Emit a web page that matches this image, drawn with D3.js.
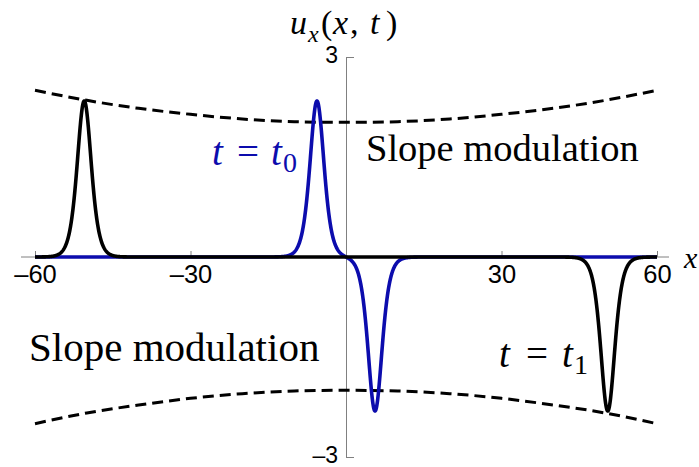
<!DOCTYPE html>
<html>
<head>
<meta charset="utf-8">
<script src="https://cdn.jsdelivr.net/npm/d3@7"></script>
<style>
  html, body { margin: 0; padding: 0; background: #fff; }
  svg { display: block; }
</style>
</head>
<body>
<svg id="chart" width="699" height="467"></svg>
<script>
// Pulse parameters for the two snapshots (centre, amplitude, width)
const blueCenters = [-5.6, 5.6];
const blueAmps = [2.34, -2.31];
const blackCenters = [-50.5, 50.5];
const blackAmps = [2.34, -2.31];
const pulseWidth = 0.55;

// Dashed envelope read at x = -60 … 60 in steps of 10
const envX = [-60, -50, -40, -30, -20, -10, 0, 10, 20, 30, 40, 50, 60];
const envUpper = [2.50, 2.35, 2.23, 2.14, 2.07, 2.03, 2.02, 2.03, 2.07, 2.14, 2.23, 2.35, 2.50];
const envLower = [-2.50, -2.34, -2.22, -2.12, -2.05, -2.01, -2.00, -2.01, -2.05, -2.12, -2.22, -2.34, -2.50];

const xTicks = [-60, -30, 30, 60];
const yTicks = [-3, 3];

const svg = d3.select("#chart");
const x = d3.scaleLinear().domain([-60, 60]).range([35, 657]);
const y = d3.scaleLinear().domain([-3, 3]).range([457, 57]);

const axisColor = "#808080";
const blue = "#0c0cad";
const sans = "'Liberation Sans', Arial, sans-serif";
const serif = "'Liberation Serif', 'Times New Roman', serif";

// sech² pulse train
function profile(centers, amps) {
  return d3.range(-60, 60.0001, 0.05).map(v => {
    let s = 0;
    centers.forEach((c, i) => {
      const ch = Math.cosh(pulseWidth * (v - c));
      s += amps[i] / (ch * ch);
    });
    return [v, s];
  });
}

const fmt = d => d < 0 ? "\u2013" + Math.abs(d) : String(d);

// x axis
svg.append("line")
  .attr("x1", 21).attr("x2", 669)
  .attr("y1", y(0)).attr("y2", y(0))
  .attr("stroke", axisColor).attr("stroke-width", 1);

const xAxis = svg.append("g")
  .attr("transform", `translate(0,${y(0)})`)
  .call(d3.axisBottom(x).tickValues(xTicks).tickSizeInner(-6).tickSizeOuter(0).tickPadding(8)
        .tickFormat(fmt));
xAxis.select(".domain").remove();
xAxis.selectAll(".tick line").attr("stroke", axisColor);
xAxis.selectAll(".tick text")
  .attr("font-family", sans).attr("font-size", 25.5).attr("fill", "#000");

// y axis
const yAxis = svg.append("g")
  .attr("transform", `translate(${x(0)},0)`)
  .call(d3.axisLeft(y).tickValues(yTicks).tickSizeInner(-8).tickSizeOuter(0).tickPadding(8)
        .tickFormat(fmt));
yAxis.select(".domain").attr("stroke", axisColor);
yAxis.selectAll(".tick line").attr("stroke", axisColor);
yAxis.selectAll(".tick text")
  .attr("font-family", sans).attr("font-size", 23).attr("fill", "#000")
  .attr("dy", "0.22em");

// envelopes
const envLine = d3.line().x(d => x(d[0])).y(d => y(d[1])).curve(d3.curveNatural);
[envUpper, envLower].forEach(vals => {
  svg.append("path")
    .datum(envX.map((v, i) => [v, vals[i]]))
    .attr("d", envLine)
    .attr("fill", "none")
    .attr("stroke", "#000")
    .attr("stroke-width", 3)
    .attr("stroke-dasharray", "11,6");
});

// pulse curves
const line = d3.line().x(d => x(d[0])).y(d => y(d[1]));
svg.append("path")
  .datum(profile(blueCenters, blueAmps))
  .attr("d", line).attr("fill", "none")
  .attr("stroke", blue).attr("stroke-width", 3.6).attr("stroke-linejoin", "round");
svg.append("path")
  .datum(profile(blackCenters, blackAmps))
  .attr("d", line).attr("fill", "none")
  .attr("stroke", "#000").attr("stroke-width", 3.6).attr("stroke-linejoin", "round");

// axis titles
const title = svg.append("g").attr("font-family", serif).attr("font-size", 34).attr("fill", "#000");
title.append("text").attr("x", 290).attr("y", 34).attr("font-style", "italic").text("u");
title.append("text").attr("x", 308).attr("y", 42).attr("font-style", "italic").attr("font-size", 24).text("x");
title.append("text").attr("x", 321).attr("y", 34).text("(");
title.append("text").attr("x", 333).attr("y", 34).attr("font-style", "italic").text("x");
title.append("text").attr("x", 350).attr("y", 34).text(",");
title.append("text").attr("x", 370).attr("y", 34).attr("font-style", "italic").text("t");
title.append("text").attr("x", 386).attr("y", 34).text(")");

svg.append("text")
  .attr("x", 684).attr("y", 268)
  .attr("font-family", serif).attr("font-style", "italic")
  .attr("font-size", 30).attr("fill", "#000").text("x");

// annotations
svg.append("text")
  .attr("x", 366).attr("y", 161)
  .attr("font-family", serif).attr("font-size", 38.5).attr("fill", "#000")
  .text("Slope modulation");

svg.append("text")
  .attr("x", 29).attr("y", 361)
  .attr("font-family", serif).attr("font-size", 41).attr("fill", "#000")
  .text("Slope modulation");

function tLabel(xs, yp, sub, color) {
  const g = svg.append("g").attr("font-family", serif).attr("font-size", 39).attr("fill", color);
  g.append("text").attr("x", xs[0]).attr("y", yp).attr("font-style", "italic").text("t");
  g.append("text").attr("x", xs[1]).attr("y", yp).text("=");
  g.append("text").attr("x", xs[2]).attr("y", yp).attr("font-style", "italic").text("t");
  g.append("text").attr("x", xs[3]).attr("y", yp + 7).attr("font-size", 28).text(sub);
}
tLabel([212, 237, 271, 283], 165, "0", blue);
tLabel([499, 526, 562, 574], 367, "1", "#000");
</script>
</body>
</html>
